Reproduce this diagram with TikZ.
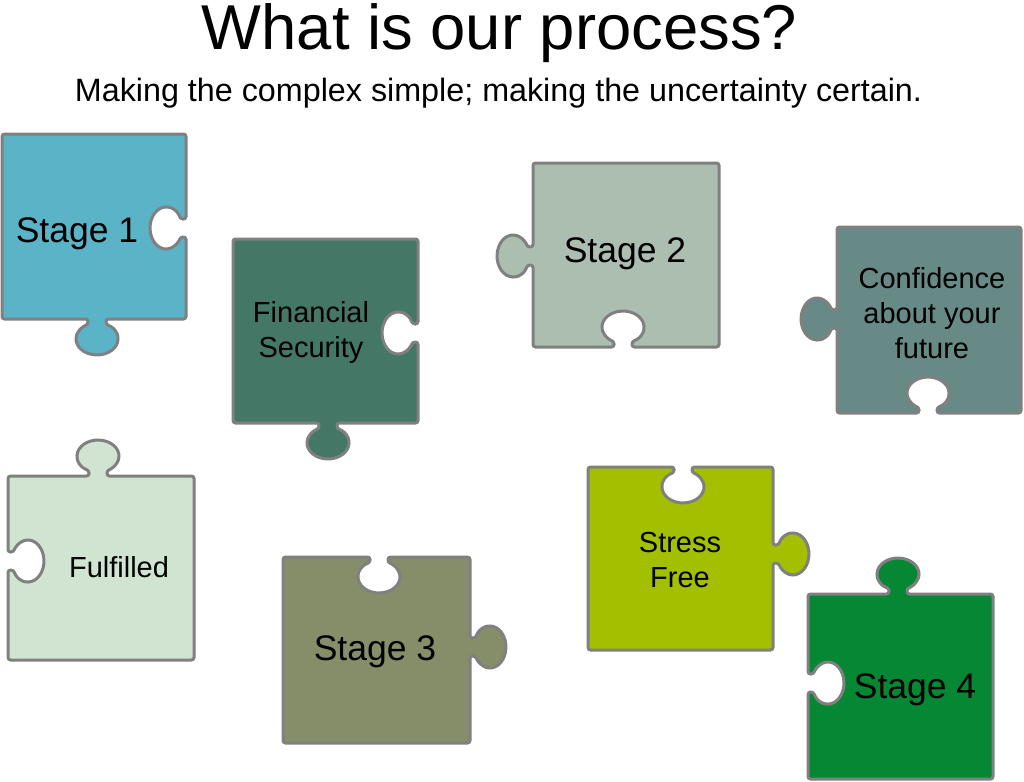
\documentclass[tikz,border=0pt]{standalone}
\usepackage{fontspec}
\setmainfont{Liberation Sans}
\definecolor{cA}{HTML}{5BB3C7}
\definecolor{cB}{HTML}{457767}
\definecolor{cC}{HTML}{ABBEAF}
\definecolor{cD}{HTML}{678A86}
\definecolor{cE}{HTML}{D1E4D1}
\definecolor{cF}{HTML}{858E69}
\definecolor{cG}{HTML}{A4BF00}
\definecolor{cH}{HTML}{058734}
\definecolor{edge}{HTML}{808080}
\tikzset{
  piece/.style={draw=edge, line width=3pt, rounded corners=2.5pt},
  big/.style={font=\fontsize{35.5}{42}\selectfont, inner sep=0pt, anchor=base},
  small/.style={font=\fontsize{29}{35}\selectfont, inner sep=0pt, align=center, anchor=base},
}
% ellipse radii for bulbs along horizontal edges (h) and vertical edges (v)
\def\bh{x radius=21, y radius=16}
\def\bv{x radius=16, y radius=21}
\begin{document}
\begin{tikzpicture}[x=1pt, y=-1pt]
\useasboundingbox (0,0) rectangle (1024,781);
% Stage 1: right hole, bottom tab
\draw[piece, fill=cA] (2,134) -- (186,134) -- (186,219) -- (180.5,219)
  arc[start angle=-25.4, end angle=-334.6, x radius=16, y radius=21] -- (186,237) -- (186,319) -- (106,319) -- (106,324.5)
  arc[start angle=295.4, end angle=604.6, x radius=21, y radius=16] -- (88,319) -- (2,319) -- cycle;
% Financial Security: right hole, bottom tab
\draw[piece, fill=cB] (233,239) -- (418,239) -- (418,324) -- (412.5,324)
  arc[start angle=-25.4, end angle=-334.6, x radius=16, y radius=21] -- (418,342) -- (418,423) -- (337,423) -- (337,428.5)
  arc[start angle=295.4, end angle=604.6, x radius=21, y radius=16] -- (319,423) -- (233,423) -- cycle;
% Stage 2: bottom hole, left tab
\draw[piece, fill=cC] (533,163) -- (719,163) -- (719,347) -- (632,347) -- (632,341.5)
  arc[start angle=64.6, end angle=-244.6, x radius=21, y radius=16] -- (614,347) -- (533,347) -- (533,265) -- (527.5,265)
  arc[start angle=25.4, end angle=334.6, x radius=16, y radius=21] -- (533,247) -- cycle;
% Confidence: bottom hole, left tab
\draw[piece, fill=cD] (837,227) -- (1021,227) -- (1021,413) -- (937,413) -- (937,407.5)
  arc[start angle=64.6, end angle=-244.6, x radius=21, y radius=16] -- (919,413) -- (837,413) -- (837,328) -- (831.5,328)
  arc[start angle=25.4, end angle=334.6, x radius=16, y radius=21] -- (837,310) -- cycle;
% Fulfilled: top tab, left hole
\draw[piece, fill=cE] (8,476) -- (89,476) -- (89,470.5)
  arc[start angle=115.4, end angle=424.6, x radius=21, y radius=16] -- (107,476) -- (194,476) -- (194,660)
  -- (8,660) -- (8,570) -- (13.5,570)
  arc[start angle=154.6, end angle=-154.6, x radius=16, y radius=21] -- (8,552) -- cycle;
% Stage 3: top hole, right tab
\draw[piece, fill=cF] (283,557) -- (370,557) -- (370,562.5)
  arc[start angle=244.6, end angle=-64.6, x radius=21, y radius=16] -- (388,557) -- (470,557) -- (470,638) -- (475.5,638)
  arc[start angle=205.4, end angle=514.6, x radius=16, y radius=21] -- (470,656) -- (470,743) -- (283,743) -- cycle;
% Stress Free: top hole, right tab
\draw[piece, fill=cG] (588,467) -- (674,467) -- (674,472.5)
  arc[start angle=244.6, end angle=-64.6, x radius=21, y radius=16] -- (692,467) -- (773,467) -- (773,545) -- (778.5,545)
  arc[start angle=205.4, end angle=514.6, x radius=16, y radius=21] -- (773,563) -- (773,650) -- (588,650) -- cycle;
% Stage 4: top tab, left hole
\draw[piece, fill=cH] (808,594) -- (889,594) -- (889,588.5)
  arc[start angle=115.4, end angle=424.6, x radius=21, y radius=16] -- (907,594) -- (993,594) -- (993,779)
  -- (808,779) -- (808,692) -- (813.5,692)
  arc[start angle=154.6, end angle=-154.6, x radius=16, y radius=21] -- (808,674) -- cycle;
% Titles
\node[inner sep=0pt, anchor=base] (title) at (499.5,50) {\resizebox{595pt}{!}{What is our process?}};
\node[inner sep=0pt, anchor=base] (sub) at (498.5,102) {\resizebox{847pt}{!}{Making the complex simple; making the uncertainty certain.}};
% Labels
\node[big] (l1) at (77,242) {Stage 1};
\node[big] (l2) at (625,262) {Stage 2};
\node[big] (l3) at (375,660) {Stage 3};
\node[big] (l4) at (915,698) {Stage 4};
\node[small] (fs) at (311,357) {Financial\\Security};
\node[small] (cf) at (932,358) {Confidence\\about your\\future};
\node[small] (ff) at (119,577) {Fulfilled};
\node[small] (sf) at (680,587) {Stress\\Free};
\end{tikzpicture}
\end{document}
